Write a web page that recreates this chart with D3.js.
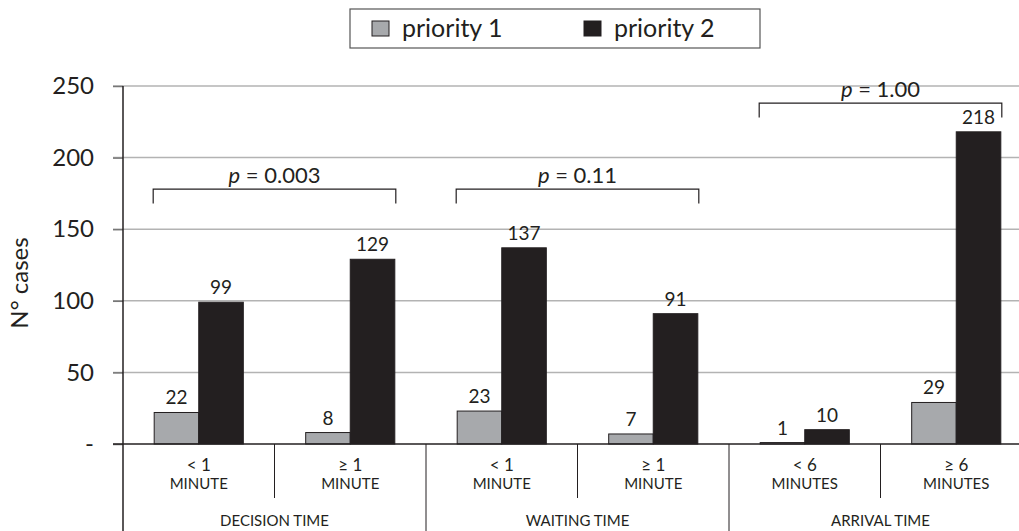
<!DOCTYPE html>
<html><head><meta charset="utf-8">
<script src="https://cdn.jsdelivr.net/npm/d3@7"></script>
<style>html,body{margin:0;padding:0;background:#fff;}svg{display:block;font-family:Lato,"Open Sans",sans-serif;}</style>
</head><body><svg id="c" width="1019" height="531"></svg>
<script>
const categories = ["DECISION TIME", "WAITING TIME", "ARRIVAL TIME"];
const subTop = ["< 1", "≥ 1", "< 1", "≥ 1", "< 6", "≥ 6"];
const subBottom = ["MINUTE", "MINUTE", "MINUTE", "MINUTE", "MINUTES", "MINUTES"];
const seriesNames = ["priority 1", "priority 2"];
const priority1 = [22, 8, 23, 7, 1, 29];
const priority2 = [99, 129, 137, 91, 10, 218];
const pValues = ["0.003", "0.11", "1.00"];
const bracketLevels = [178, 178, 238];
const yTicks = [0, 50, 100, 150, 200, 250];

const svg = d3.select("#c");
const colors = {"priority 1": "#a7a9ac", "priority 2": "#231f20"};
const dark = "#231f20";

const x0 = d3.scaleBand().domain(d3.range(6)).range([123, 1032]).padding(0);
const x1 = d3.scaleBand().domain(seriesNames).range([0, x0.bandwidth()]).paddingInner(0).paddingOuter(0.7);
const y = d3.scaleLinear().domain([0, 250]).range([444, 86]);

// gridlines
svg.append("g").selectAll("line").data(yTicks.filter(d => d > 0)).join("line")
  .attr("x1", 113).attr("x2", 1019).attr("y1", d => y(d)).attr("y2", d => y(d))
  .attr("stroke", "#b3b3b3").attr("stroke-width", 1.5);

// y axis
const yAxis = d3.axisLeft(y).tickValues(yTicks).tickSize(10).tickPadding(19)
  .tickFormat(d => d === 0 ? "-" : d);
const ya = svg.append("g").attr("transform", "translate(123,0)").call(yAxis);
ya.select(".domain").remove();
ya.selectAll(".tick line").attr("stroke", "#777").attr("stroke-width", 1.5);
ya.selectAll(".tick text").attr("font-size", 24).attr("fill", dark).attr("font-family", "Lato, 'Open Sans', sans-serif");

// bars
const rows = d3.range(6).map(i => ({i, vals: [{k: "priority 1", v: priority1[i]}, {k: "priority 2", v: priority2[i]}]}));
const g = svg.append("g").selectAll("g").data(rows).join("g")
  .attr("transform", d => `translate(${x0(d.i)},0)`);
g.selectAll("rect").data(d => d.vals).join("rect")
  .attr("x", d => x1(d.k)).attr("width", x1.bandwidth())
  .attr("y", d => y(d.v)).attr("height", d => y(0) - y(d.v))
  .attr("fill", d => colors[d.k]).attr("stroke", dark).attr("stroke-width", 1);
g.selectAll("text").data(d => d.vals).join("text")
  .attr("x", d => x1(d.k) + x1.bandwidth() / 2).attr("y", d => y(d.v) - 8)
  .attr("text-anchor", "middle").attr("font-size", 19).attr("fill", dark)
  .text(d => d.v);

// y axis line and baseline
svg.append("line").attr("x1", 123).attr("x2", 123).attr("y1", y(250)).attr("y2", 531)
  .attr("stroke", dark).attr("stroke-width", 1.5);
svg.append("line").attr("x1", 113).attr("x2", 1032).attr("y1", y(0)).attr("y2", y(0))
  .attr("stroke", dark).attr("stroke-width", 1.5);

// dividers below axis
d3.range(1, 6).forEach(i => {
  const xx = x0(i);
  const long = i % 2 === 0;
  svg.append("line").attr("x1", xx).attr("x2", xx).attr("y1", y(0)).attr("y2", long ? 531 : 498)
    .attr("stroke", dark).attr("stroke-width", 1);
});

// sub labels
d3.range(6).forEach(i => {
  const cx = x0(i) + x0.bandwidth() / 2;
  svg.append("text").attr("x", cx).attr("y", 471).attr("text-anchor", "middle")
    .attr("font-size", 17).attr("fill", dark).text(subTop[i]);
  svg.append("text").attr("x", cx).attr("y", 489).attr("text-anchor", "middle")
    .attr("font-size", 15).attr("fill", dark).text(subBottom[i]);
});
categories.forEach((c, j) => {
  const cx = (x0(2 * j) + x0(2 * j + 1) + x0.bandwidth()) / 2;
  svg.append("text").attr("x", cx).attr("y", 526).attr("text-anchor", "middle")
    .attr("font-size", 15).attr("fill", dark).text(c);
});

// brackets
pValues.forEach((p, j) => {
  const xl = x0(2 * j) + x1("priority 1") - 1;
  const xr = x0(2 * j + 1) + x1("priority 2") + x1.bandwidth() + 1;
  const yt = y(bracketLevels[j]);
  const yb = y(bracketLevels[j] - 10);
  svg.append("path").attr("d", `M${xl},${yb}V${yt}H${xr}V${yb}`)
    .attr("fill", "none").attr("stroke", dark).attr("stroke-width", 1.2);
  const t = svg.append("text").attr("x", (xl + xr) / 2).attr("y", yt - 6)
    .attr("text-anchor", "middle").attr("font-size", 22).attr("fill", dark);
  t.append("tspan").attr("font-style", "italic").text("p");
  t.append("tspan").text(" = " + p);
});

// y label
svg.append("text").attr("transform", "translate(28,283) rotate(-90)")
  .attr("text-anchor", "middle").attr("font-size", 24).attr("fill", dark).text("N° cases");

// legend
svg.append("rect").attr("x", 350).attr("y", 9).attr("width", 410).attr("height", 39)
  .attr("fill", "#fff").attr("stroke", "#555").attr("stroke-width", 1.2);
const legX = [372, 584];
seriesNames.forEach((s, k) => {
  svg.append("rect").attr("x", legX[k]).attr("y", 21).attr("width", 17).attr("height", 15)
    .attr("fill", colors[s]).attr("stroke", dark).attr("stroke-width", 1);
  svg.append("text").attr("x", legX[k] + 30).attr("y", 37).attr("font-size", 25)
    .attr("fill", dark).text(s);
});
</script></body></html>
